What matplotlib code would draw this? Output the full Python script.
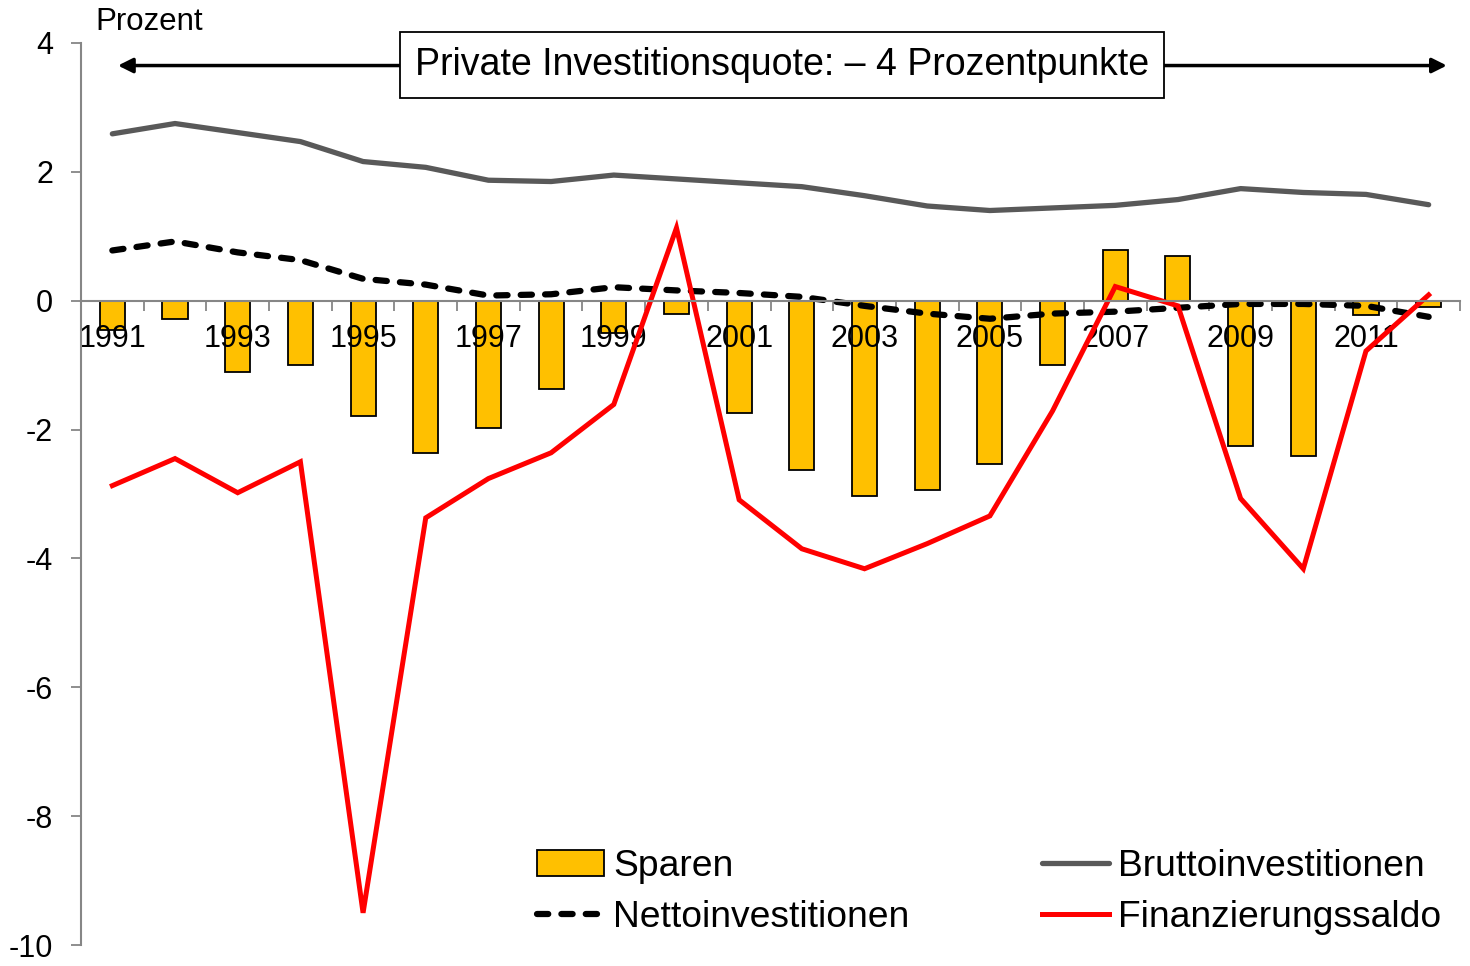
import matplotlib
matplotlib.use("Agg")
import matplotlib.pyplot as plt
import numpy as np

plt.rcParams['font.family'] = ['Liberation Sans', 'DejaVu Sans']
plt.rcParams['axes.unicode_minus'] = False

years = list(range(1991, 2013))
sparen = [-0.45, -0.28, -1.10, -0.99, -1.79, -2.36, -1.97, -1.37, -0.50, -0.20,
          -1.74, -2.62, -3.03, -2.93, -2.53, -0.99, 0.79, 0.70, -2.25, -2.41,
          -0.22, -0.09]
brutto = [2.59, 2.75, 2.61, 2.47, 2.16, 2.07, 1.87, 1.85, 1.95, 1.89,
          1.83, 1.77, 1.63, 1.47, 1.40, 1.44, 1.48, 1.57, 1.74, 1.68,
          1.65, 1.49]
netto = [0.78, 0.92, 0.75, 0.63, 0.34, 0.25, 0.08, 0.10, 0.21, 0.16,
         0.12, 0.06, -0.08, -0.20, -0.28, -0.20, -0.17, -0.11, -0.05, -0.05,
         -0.08, -0.25]
finanz = [-2.87, -2.45, -2.98, -2.50, -9.50, -3.37, -2.76, -2.36, -1.61, 1.13,
          -3.09, -3.85, -4.16, -3.77, -3.34, -1.71, 0.22, -0.08, -3.07, -4.16,
          -0.78, 0.09]
label_years = [str(y) for y in years[::2]]

x = np.arange(len(years))

fig = plt.figure(figsize=(14.7, 9.66), dpi=100)
ax = fig.add_axes([0.0551, 0.0217, 0.9381, 0.9338])

gray_axis = '#868686'
b = ax.bar(x, sparen, width=0.4, color='#FFC000', edgecolor='black', linewidth=1.3,
           label='Sparen', zorder=1)
l2, = ax.plot(x, netto, color='black', linewidth=4.5, linestyle=(0, (1.8, 2.1)),
              label='Nettoinvestitionen', zorder=2, dash_capstyle='round')
l1, = ax.plot(x, brutto, color='#595959', linewidth=3.8, label='Bruttoinvestitionen',
              zorder=2, solid_capstyle='round')
l3, = ax.plot(x, finanz, color='#FF0000', linewidth=3.6, label='Finanzierungssaldo',
              zorder=2, solid_joinstyle='miter')

ax.set_xlim(-0.5, len(years) - 0.5)
ax.set_ylim(-10, 4)
ax.set_yticks(np.arange(-10, 5, 2))
ax.tick_params(axis='y', direction='out', length=7, width=1.3, color=gray_axis,
               labelsize=22, pad=13)

ax.spines['top'].set_visible(False)
ax.spines['right'].set_visible(False)
ax.spines['left'].set_color(gray_axis)
ax.spines['left'].set_linewidth(1.5)
ax.spines['bottom'].set_position(('data', 0))
ax.spines['bottom'].set_color(gray_axis)
ax.spines['bottom'].set_linewidth(1.5)

ax.set_xticks(np.arange(-0.5, len(years), 1.0))
ax.set_xticklabels([])
ax.tick_params(axis='x', which='major', direction='out', length=7, width=1.3,
               color=gray_axis)
ax.set_xticks(x[::2], minor=True)
ax.set_xticklabels(label_years, minor=True)
ax.tick_params(axis='x', which='minor', length=0, labelsize=22, pad=17)

# Arrow and annotation box
ax.annotate('', xy=(0.09, 3.65), xytext=(21.29, 3.65),
            arrowprops=dict(arrowstyle='<|-|>', color='black', lw=2.5,
                            mutation_scale=22, shrinkA=0, shrinkB=0))
ax.text(10.69, 3.66, 'Private Investitionsquote: \u2013 4 Prozentpunkte',
        ha='center', va='center', fontsize=27,
        bbox=dict(boxstyle='square,pad=0.4', facecolor='white', edgecolor='black',
                  linewidth=1.3), zorder=5)

fig.text(0.065, 0.977, 'Prozent', fontsize=22.5, ha='left', va='center')

leg = ax.legend(handles=[b, l2, l1, l3], ncol=2, loc='lower left',
                bbox_to_anchor=(0.3234, 0.0), bbox_transform=ax.transAxes,
                frameon=False, fontsize=26.8, handlelength=1.8, handletextpad=0.24,
                columnspacing=3.57, labelspacing=0.42, borderpad=0.2,
                borderaxespad=0.08)

fig.savefig('out.png', dpi=100)
